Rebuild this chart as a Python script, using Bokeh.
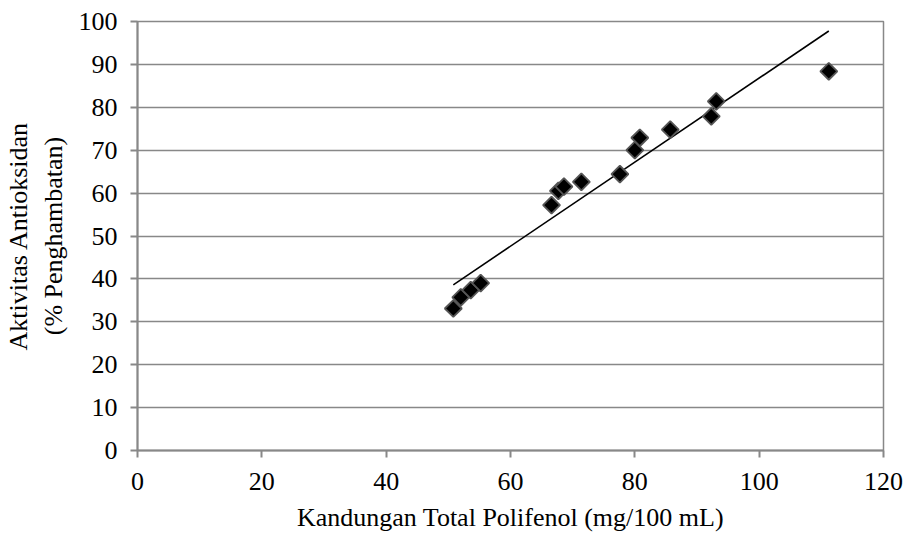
import numpy as np
from bokeh.plotting import figure
from bokeh.models import ColumnDataSource, FixedTicker, Range1d
from bokeh.embed import file_html
from bokeh.resources import INLINE

polifenol = [50.8, 52.0, 53.6, 55.2, 66.6, 67.7, 68.6, 71.4, 77.6, 80.0, 80.8, 85.7, 92.3, 93.1, 111.2]
antioksidan = [33.1, 35.7, 37.4, 39.0, 57.2, 60.5, 61.5, 62.6, 64.4, 70.0, 72.9, 74.8, 77.9, 81.4, 88.4]
x_ticks = [0, 20, 40, 60, 80, 100, 120]
y_ticks = [0, 10, 20, 30, 40, 50, 60, 70, 80, 90, 100]

FONT = "Liberation Serif"
GRID = "#888888"

p = figure(width=906, height=536, output_backend="svg", toolbar_location=None,
           x_range=Range1d(0, 120), y_range=Range1d(0, 100),
           min_border_left=137, min_border_right=23, min_border_top=21, min_border_bottom=86)
p.background_fill_color = "white"
p.border_fill_color = "white"
p.outline_line_color = GRID
p.outline_line_width = 1.5

p.xgrid.grid_line_color = None
p.ygrid.grid_line_color = GRID
p.ygrid.grid_line_width = 1.5

p.xaxis.ticker = FixedTicker(ticks=x_ticks)
p.yaxis.ticker = FixedTicker(ticks=y_ticks)
for ax in (p.xaxis[0], p.yaxis[0]):
    ax.axis_line_color = GRID
    ax.axis_line_width = 2
    ax.major_tick_line_color = GRID
    ax.major_tick_line_width = 2
    ax.major_tick_out = 7
    ax.major_tick_in = 0
    ax.minor_tick_line_color = None
    ax.major_label_text_font = FONT
    ax.major_label_text_font_size = "26px"
    ax.major_label_text_color = "black"
    ax.axis_label_text_font = FONT
    ax.axis_label_text_font_size = "26px"
    ax.axis_label_text_font_style = "normal"
    ax.axis_label_text_color = "black"

p.xaxis.axis_label = "Kandungan Total Polifenol (mg/100 mL)"
p.yaxis.axis_label = "Aktivitas Antioksidan\n(% Penghambatan)"
p.xaxis.major_label_standoff = 15
p.yaxis.major_label_standoff = 13
p.xaxis.axis_label_standoff = 10
p.yaxis.axis_label_standoff = 8

# linear trendline
coef = np.polyfit(polifenol, antioksidan, 1)
xs = [min(polifenol), max(polifenol)]
ys = [coef[0] * v + coef[1] for v in xs]
p.line(xs, ys, line_color="black", line_width=1.6)

src = ColumnDataSource(dict(x=polifenol, y=antioksidan))
p.scatter("x", "y", source=src, marker="square", size=12, angle=np.pi / 4,
          fill_color="black", line_color="#555555", line_width=1.8)

open("out.html", "w").write(file_html(p, INLINE))
